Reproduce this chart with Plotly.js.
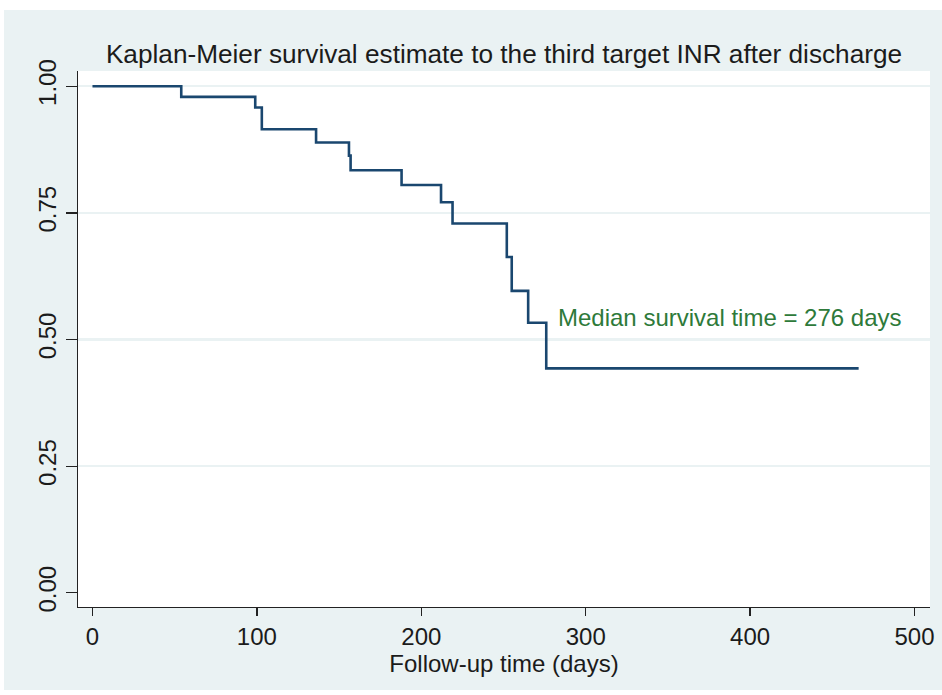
<!DOCTYPE html>
<html>
<head>
<meta charset="utf-8">
<script src="https://cdn.plot.ly/plotly-3.0.1.min.js"></script>
<style>
  html, body { margin: 0; padding: 0; background: #ffffff; }
  #chart { position: absolute; left: 4px; top: 10px; width: 938px; height: 680px; }
</style>
</head>
<body>
<div id="chart"></div>
<script>
// Kaplan-Meier step data
const timeDays = [0, 54, 99, 103, 136, 156, 157, 188, 212, 219, 252, 255, 265, 276, 466];
const survival = [1.000, 0.979, 0.958, 0.915, 0.889, 0.863, 0.834, 0.805, 0.771, 0.729, 0.663, 0.596, 0.533, 0.443, 0.443];
const medianDays = [276];
const xTickVals = [0, 100, 200, 300, 400, 500];
const xTickText = ["0", "100", "200", "300", "400", "500"];
const yTickVals = [0, 0.25, 0.5, 0.75, 1];
const yTickText = ["0.00", "0.25", "0.50", "0.75", "1.00"];
const yGridVals = [0.25, 0.5, 0.75, 1];

const FONT = "Liberation Sans, Arial, sans-serif";
const BG = "#eaf2f3";
const TXT = 24;

const traces = [
  {
    x: timeDays,
    y: survival,
    type: "scatter",
    mode: "lines",
    line: { shape: "hv", color: "#1a476f", width: 2.6 },
    hoverinfo: "skip",
    showlegend: false
  },
  {
    x: [timeDays[0]],
    y: [yGridVals[0]],
    yaxis: "y2",
    type: "scatter",
    mode: "markers",
    marker: { opacity: 0 },
    hoverinfo: "skip",
    showlegend: false
  }
];

const layout = {
  width: 938,
  height: 680,
  paper_bgcolor: BG,
  plot_bgcolor: "#ffffff",
  margin: { l: 74, r: 12, t: 61, b: 83, pad: 0 },
  font: { family: FONT, size: TXT, color: "#1b1b1b" },
  title: {
    text: "Kaplan-Meier survival estimate to the third target INR after discharge",
    font: { family: FONT, size: 26.2, color: "#1b1b1b" },
    x: 0.5, xref: "paper", xanchor: "center",
    y: 0.936, yref: "container", yanchor: "middle"
  },
  xaxis: {
    range: [-8.8, 509.4],
    tickvals: xTickVals,
    ticktext: xTickText,
    ticks: "outside",
    ticklen: 8,
    tickwidth: 1.3,
    tickcolor: "#222",
    showline: true,
    linecolor: "#222",
    linewidth: 1.3,
    showgrid: false,
    zeroline: false,
    tickfont: { family: FONT, size: TXT, color: "#1b1b1b" },
    title: { text: "Follow-up time (days)", font: { family: FONT, size: TXT, color: "#1b1b1b" }, standoff: 3 }
  },
  yaxis: {
    range: [-0.028, 1.030],
    tickvals: yTickVals,
    ticktext: yTickText,
    tickangle: -90,
    ticks: "outside",
    ticklen: 11,
    tickwidth: 1.3,
    tickcolor: "#222",
    showline: true,
    linecolor: "#222",
    linewidth: 1.3,
    showgrid: false,
    zeroline: false,
    tickfont: { family: FONT, size: TXT, color: "#1b1b1b" }
  },
  yaxis2: {
    overlaying: "y",
    range: [-0.028, 1.030],
    tickvals: yGridVals,
    showticklabels: false,
    ticks: "",
    showline: false,
    showgrid: true,
    gridcolor: BG,
    gridwidth: 2.5,
    zeroline: false,
    layer: "below traces"
  },
  annotations: [
    {
      x: medianDays[0] + 6,
      y: 0.544,
      xref: "x", yref: "y",
      xanchor: "left", yanchor: "middle",
      text: "Median survival time = " + medianDays[0] + " days",
      showarrow: false,
      font: { family: FONT, size: TXT, color: "#2e7a3a" }
    }
  ]
};

Plotly.newPlot("chart", traces, layout, { staticPlot: true, displayModeBar: false });
</script>
</body>
</html>
